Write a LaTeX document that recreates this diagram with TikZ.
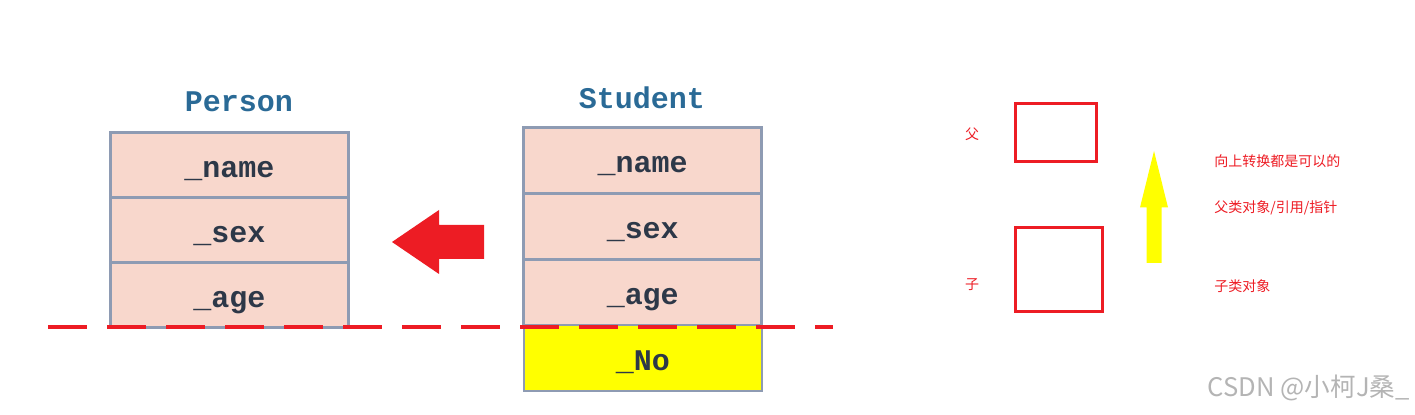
\documentclass[tikz,border=0pt]{standalone}
\usepackage{fontspec}
\newfontfamily\fieldfont{Liberation Mono}
\newfontfamily\cjk{Noto Sans CJK SC}
\usetikzlibrary{positioning}
\definecolor{boxfill}{HTML}{F8D7CC}
\definecolor{boxline}{HTML}{8E9BB3}
\definecolor{fieldtext}{HTML}{2D3848}
\definecolor{titleblue}{HTML}{2A6A96}
\definecolor{bigred}{HTML}{ED1C24}
\definecolor{pureyellow}{HTML}{FFFF00}
\definecolor{markgray}{HTML}{B4B4B4}
\tikzset{
  field/.style={rectangle, draw=boxline, fill=boxfill, line width=1.5pt, minimum width=119pt, minimum height=33pt, outer sep=0pt, inner sep=0pt, text height=12pt, text depth=0pt, font=\fieldfont\bfseries\fontsize{15}{15}\selectfont, text=fieldtext},
  pfield/.style={field, minimum height=32.5pt},
  newfield/.style={field, fill=pureyellow, line width=1pt},
  heading/.style={inner sep=0pt, font=\fieldfont\bfseries\fontsize{15}{15}\selectfont, text=titleblue},
  objbox/.style={rectangle, draw=bigred, line width=1.5pt, inner sep=0pt},
  note/.style={inner sep=0pt, font=\cjk\fontsize{7}{8}\selectfont, text=bigred},
  cutline/.style={draw=bigred, line width=1.75pt, dash pattern=on 19.5pt off 10pt},
}
\begin{document}
\begin{tikzpicture}[x=0.5pt, y=-0.5pt]
\useasboundingbox (0,0) rectangle (1415,415);

% base class
\node[heading] (ptitle) at (239,102) {Person};
\node[pfield] (pname) at (229.5,165.5) {\_name};
\node[pfield, below=0pt of pname] (psex) {\_sex};
\node[pfield, below=0pt of psex] (page) {\_age};

% derived class
\node[heading] (stitle) at (642,98) {Student};
\node[field] (sname) at (642.75,160.5) {\_name};
\node[field, below=0pt of sname] (ssex) {\_sex};
\node[field, below=0pt of ssex] (sage) {\_age};
\node[newfield, below=0pt of sage] (sno) {\_No};

% slicing line and big arrow
\coordinate (cutl) at (48,327);
\coordinate (cutr) at (833,327);
\draw[cutline] (cutl) -- (cutr);
\coordinate (rtip) at (392,242);
\fill[bigred] (rtip) -- ++(47,-32) -- ++(0,15) -- ++(45,0) -- ++(0,34) -- ++(-45,0) -- ++(0,15) -- cycle;

% upcast sketch
\node[objbox, minimum width=40.25pt, minimum height=29pt] (father) at (1055.75,132.5) {};
\node[objbox, minimum width=43.5pt, minimum height=42.25pt] (child) at (1058.5,269.75) {};
\node[note] (flabel) at (972,134) {父};
\node[note] (clabel) at (972,285) {子};
\coordinate (ytip) at (1154,151);
\fill[pureyellow] (ytip) -- ++(14,56.5) -- ++(-6.5,0) -- ++(0,55.5) -- ++(-15,0) -- ++(0,-55.5) -- ++(-6.5,0) -- cycle;
\node[note, anchor=west] (n1) at (1214,161) {向上转换都是可以的};
\node[note, anchor=west] (n2) at (1214,208) {父类对象/引用/指针};
\node[note, anchor=west] (n3) at (1214,286) {子类对象};

\node[inner sep=0pt, anchor=east, font=\cjk\fontsize{12.8}{13}\selectfont, text=markgray] (mark) at (1410,388) {CSDN @小柯J桑\_};
\end{tikzpicture}
\end{document}
